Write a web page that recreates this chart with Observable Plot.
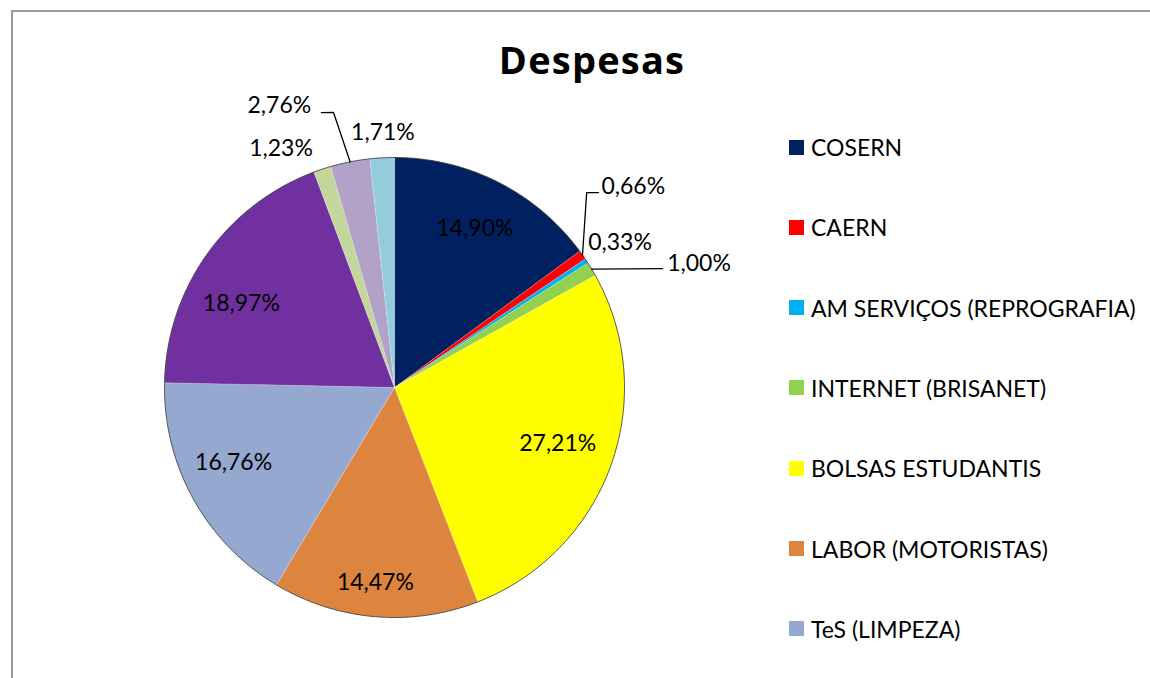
<!DOCTYPE html>
<html>
<head>
<meta charset="utf-8">
<script src="https://cdn.jsdelivr.net/npm/d3@7"></script>
<script src="https://cdn.jsdelivr.net/npm/@observablehq/plot@0.6"></script>
<style>
  html, body { margin: 0; padding: 0; background: #fff; overflow: hidden; }
  #wrap { position: relative; width: 1150px; height: 678px; overflow: hidden; font-family: Lato, "Open Sans", sans-serif; }
  #frame { position: absolute; left: 11px; top: 10px; width: 1300px; height: 800px; border: 2px solid #9a9a9a; box-sizing: border-box; }
  #chart { position: absolute; left: 0; top: 0; }
  #title { position: absolute; left: 0; width: 1184px; top: 37px; text-align: center; font-weight: bold; font-size: 38px; letter-spacing: 1.2px; font-family: "Open Sans", Lato, sans-serif; color: #000; line-height: 1.2; }
  #legend { position: absolute; left: 789px; top: 0; }
  .item { position: absolute; left: 0; white-space: nowrap; font-size: 23px; color: #000; display: flex; align-items: center; }
  .sw { width: 15px; height: 15px; margin-right: 7px; flex: none; }
</style>
</head>
<body>
<div id="wrap">
  <div id="frame"></div>
  <div id="chart"></div>
  <div id="title">Despesas</div>
  <div id="legend"></div>
</div>
<script>
// ---- data ----
const categories = [
  "COSERN", "CAERN", "AM SERVIÇOS (REPROGRAFIA)", "INTERNET (BRISANET)",
  "BOLSAS ESTUDANTIS", "LABOR (MOTORISTAS)", "TeS (LIMPEZA)",
  "Categoria 8", "Categoria 9", "Categoria 10", "Categoria 11"
];
const percents = [14.90, 0.66, 0.33, 1.00, 27.21, 14.47, 16.76, 18.97, 1.23, 2.76, 1.71];
const colors = ["#002060", "#FF0000", "#00B0F0", "#92D050", "#FFFF00", "#DD843F",
                "#95A9D0", "#7030A0", "#C3D69B", "#B3A2C7", "#93CDDD"];

// ---- layout (label placement: angle in degrees clockwise from top or null = mid angle, radius as fraction of pie radius) ----
const labelLayout = [
  [null, 0.775], [49.9, 1.357], [57.3, 1.165], [67.8, 1.43], [108.9, 0.75],
  [185.6, 0.852], [245, 0.772], [298.8, 0.76], [334.6, 1.15], [337.8, 1.325], [357.4, 1.11]
];
// leader bends (polar) for some labels; first point is rim at slice mid angle
const leaderLayout = {
  1: [[44.6, 1.19], [46.3, 1.227]],
  3: [[66.1, 1.275]],
  9: [[347.5, 1.225], [345.1, 1.237]]
};

const W = 1150, H = 678, cx = 394, cy = 387, R = 230;
const rad = d => d * Math.PI / 180;
const polar = (deg, r) => ({ x: r * Math.sin(rad(deg)), y: r * Math.cos(rad(deg)) });

const total = d3.sum(percents);
let acc = 0;
const slices = categories.map((name, i) => {
  const a0 = acc / total * 360;
  acc += percents[i];
  const a1 = acc / total * 360;
  return { name, value: percents[i], a0, a1, mid: (a0 + a1) / 2, i };
});

// slice polygons
const polyPts = [];
for (const s of slices) {
  polyPts.push({ name: s.name, x: 0, y: 0 });
  const n = Math.max(2, Math.ceil((s.a1 - s.a0) / 0.5));
  for (let k = 0; k <= n; k++) {
    const p = polar(s.a0 + (s.a1 - s.a0) * k / n, 1);
    polyPts.push({ name: s.name, ...p });
  }
  polyPts.push({ name: s.name, x: 0, y: 0 });
}
// outline
const rim = d3.range(0, 361, 0.5).map(a => polar(a, 1));
// separators
const seps = slices.map(s => ({ ...polar(s.a0, 1) }));

// labels
const fmt = v => d3.format(".2f")(v).replace(".", ",") + "%";
const labels = slices.map(s => {
  const [ang, r] = labelLayout[s.i];
  const p = polar(ang == null ? s.mid : ang, r);
  return { text: fmt(s.value), ...p };
});
const leaders = [];
for (const [k, pts] of Object.entries(leaderLayout)) {
  const s = slices[+k];
  leaders.push({ id: k, ...polar(s.mid, 1.0) });
  for (const [a, r] of pts) leaders.push({ id: k, ...polar(a, r) });
}

const chart = Plot.plot({
  width: W, height: H,
  marginLeft: cx - R, marginRight: W - (cx + R),
  marginTop: cy - R, marginBottom: H - (cy + R),
  x: { domain: [-1, 1], axis: null },
  y: { domain: [-1, 1], axis: null },
  color: { domain: categories, range: colors },
  style: { fontFamily: "Lato, 'Open Sans', sans-serif", overflow: "visible", background: "transparent" },
  marks: [
    Plot.line(polyPts, { x: "x", y: "y", z: "name", fill: "name", stroke: "none", curve: "linear-closed" }),
    Plot.link(seps, { x1: 0, y1: 0, x2: "x", y2: "y", stroke: "#ffffff", strokeOpacity: 0.45, strokeWidth: 0.6 }),
    Plot.line(rim, { x: "x", y: "y", stroke: "#404040", strokeWidth: 0.9 }),
    Plot.line(leaders, { x: "x", y: "y", z: "id", stroke: "#000", strokeWidth: 1.3 }),
    Plot.text(labels, { x: "x", y: "y", text: "text", fontSize: 23, fill: "#000", textAnchor: "middle" })
  ]
});
document.getElementById("chart").appendChild(chart);

// legend (only the entries that fit in the visible area, as in the reference)
const legend = document.getElementById("legend");
categories.forEach((c, i) => {
  const top = 147 + i * 80.3 - 14;
  if (top + 28 > H) return;
  const el = document.createElement("div");
  el.className = "item";
  el.style.top = top + "px";
  el.style.height = "28px";
  el.innerHTML = `<span class="sw" style="background:${colors[i]}"></span><span>${c}</span>`;
  legend.appendChild(el);
});
</script>
</body>
</html>
